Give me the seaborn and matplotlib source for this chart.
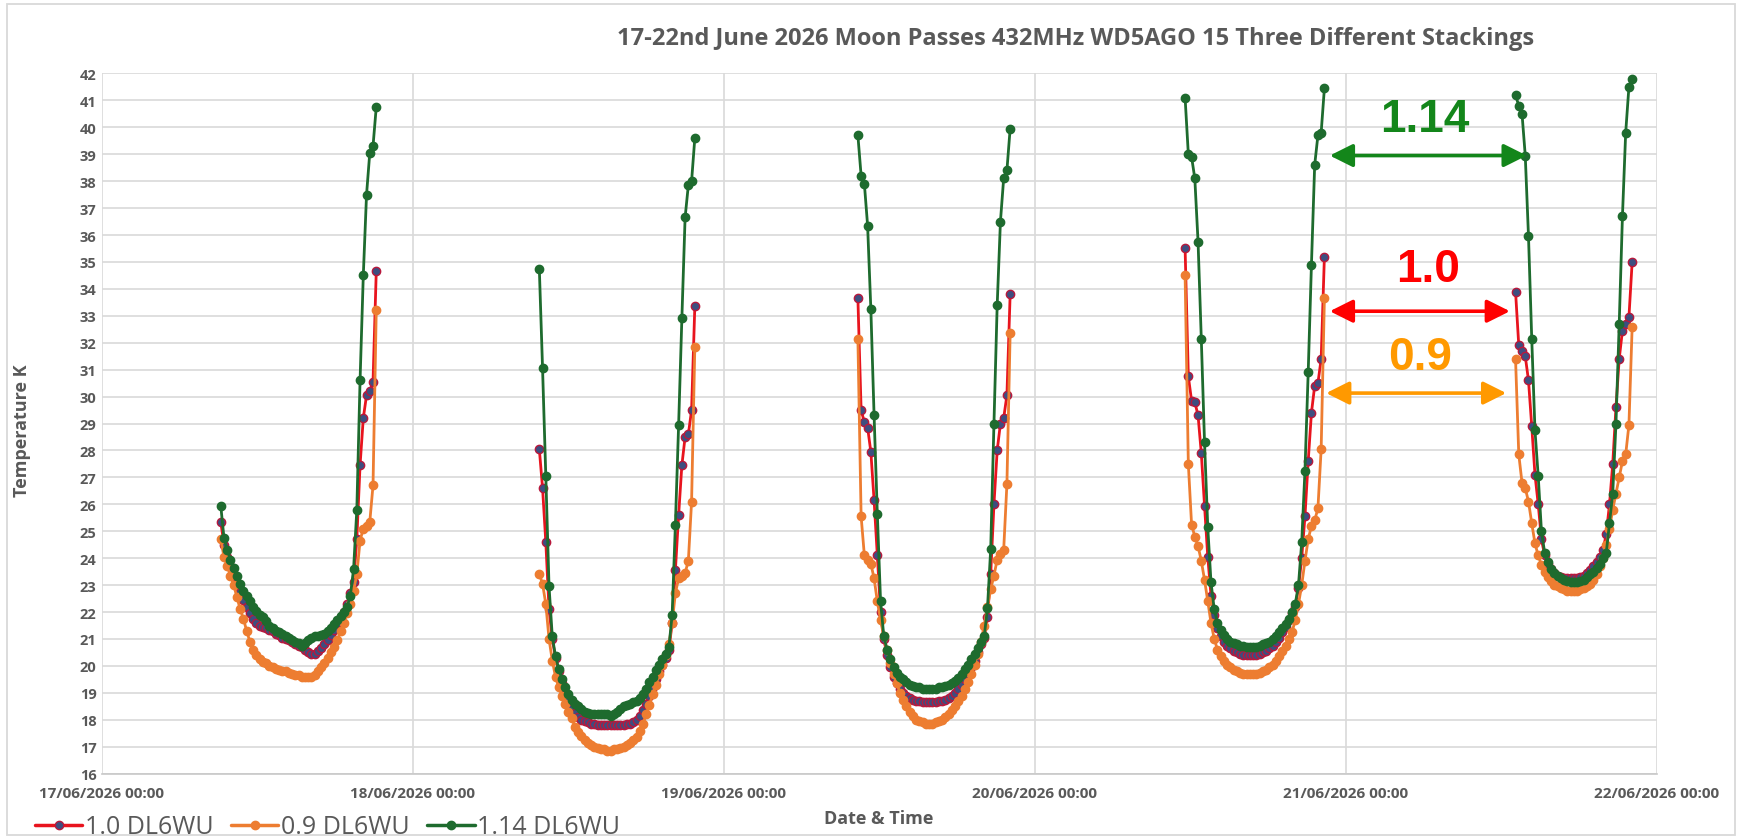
import pandas as pd
import matplotlib
matplotlib.use('Agg')
import matplotlib.pyplot as plt
import matplotlib.dates as mdates
from matplotlib.lines import Line2D
from matplotlib.patches import Rectangle
import seaborn as sns

sns.set_theme(style='white')
plt.rcParams['font.family'] = ['Open Sans', 'DejaVu Sans']

TITLE = "17-22nd June 2026 Moon Passes 432MHz WD5AGO 15 Three Different Stackings"
SERIES = ['1.0 DL6WU', '0.9 DL6WU', '1.14 DL6WU']
PASS_STARTS = ['2026-06-17 09:10', '2026-06-18 09:45', '2026-06-19 10:20',
               '2026-06-20 11:35', '2026-06-21 13:05']
STEP = '15min'
X_TICKS = ['2026-06-17', '2026-06-18', '2026-06-19', '2026-06-20', '2026-06-21', '2026-06-22']
X_TICK_LABELS = ['17/06/2026 00:00', '18/06/2026 00:00', '19/06/2026 00:00',
                 '20/06/2026 00:00', '21/06/2026 00:00', '22/06/2026 00:00']
Y_TICKS = list(range(16, 43))

# ---- 1.0 DL6WU ----
s10_p1 = [25.35, 24.5, 24.05, 23.7, 23.35, 23.05, 22.75, 22.45, 22.2, 21.95,
          21.75, 21.6, 21.5, 21.45, 21.4, 21.35, 21.3, 21.2, 21.15, 21.05,
          21.0, 20.95, 20.9, 20.8, 20.75, 20.7, 20.6, 20.5, 20.45, 20.45,
          20.55, 20.65, 20.8, 20.95, 21.15, 21.35, 21.6, 21.8, 22.0, 22.3,
          22.7, 23.1, 24.7, 27.45, 29.2, 30.05, 30.2, 30.55, 34.65]
s10_p2 = [28.05, 26.6, 24.6, 22.1, 21.0, 20.3, 19.8, 19.35, 19.0, 18.7,
          18.45, 18.25, 18.1, 18.0, 17.95, 17.9, 17.85, 17.85, 17.8, 17.8,
          17.8, 17.8, 17.8, 17.8, 17.8, 17.8, 17.8, 17.85, 17.85, 17.9,
          18.0, 18.15, 18.35, 18.6, 18.9, 19.2, 19.5, 19.8, 20.05, 20.3,
          20.6, 21.6, 23.55, 25.6, 27.45, 28.5, 28.6, 29.5, 33.35]
s10_p3 = [33.65, 29.5, 29.05, 28.85, 27.95, 26.15, 24.1, 22.0,
          21.0, 20.4, 19.95, 19.6, 19.35, 19.15, 19.0, 18.9, 18.8, 18.75,
          18.7, 18.7, 18.65, 18.65, 18.65, 18.65, 18.65, 18.7, 18.7, 18.75,
          18.8, 18.9, 19.0, 19.15, 19.3, 19.5, 19.7, 19.95, 20.2, 20.5,
          20.8, 21.05,
          21.8, 23.4, 26.0, 28.0, 29.0, 29.2, 30.05, 33.8]
s10_p4 = [35.5, 30.75, 29.85, 29.8, 29.3, 27.9, 25.95, 24.05,
          22.6, 21.9, 21.4, 21.1, 20.9, 20.75, 20.65, 20.55, 20.5, 20.45,
          20.4, 20.4, 20.4, 20.4, 20.4, 20.45, 20.5, 20.55, 20.65, 20.75,
          20.9, 21.05, 21.25, 21.45, 21.7, 21.95, 22.2,
          22.9, 24.0, 25.55, 27.6, 29.4, 30.4, 30.5, 31.4, 35.2]
s10_p5 = [33.9, 31.9, 31.7, 31.5, 30.6, 28.9, 27.1, 26.0, 24.7,
          24.1, 23.8, 23.6, 23.45, 23.35, 23.3, 23.25, 23.25, 23.25, 23.25,
          23.25, 23.3, 23.35, 23.45, 23.55, 23.7, 23.85, 24.05, 24.3,
          24.9, 26.0, 27.5, 29.6, 31.4, 32.45, 32.7, 32.95, 35.0]

# ---- 0.9 DL6WU ----
s09_p1 = [24.7, 24.05, 23.7, 23.35, 23.0, 22.55, 22.1, 21.75, 21.3, 20.9,
          20.6, 20.4, 20.25, 20.15, 20.1, 20.0, 19.95, 19.9, 19.85, 19.8,
          19.8, 19.75, 19.7, 19.65, 19.65, 19.6, 19.6, 19.6,
          19.6, 19.65, 19.8, 19.95, 20.1, 20.3, 20.5, 20.7, 20.95, 21.3,
          21.6, 21.95, 22.3, 22.8, 23.4, 24.65, 25.1, 25.2, 25.35, 26.7, 33.2]
s09_p2 = [23.4, 23.05, 22.3, 21.0, 20.2, 19.6, 19.2, 18.9, 18.6, 18.3,
          18.05, 17.75, 17.55, 17.4, 17.25, 17.15, 17.05, 17.0, 16.95, 16.9,
          16.9, 16.85, 16.85, 16.9, 16.9, 16.95, 17.0, 17.05, 17.15, 17.25,
          17.35, 17.6, 17.85, 18.2, 18.55, 18.95, 19.3, 19.7, 20.05, 20.4,
          20.8, 21.6, 22.7, 23.25, 23.35, 23.45, 23.9, 26.1, 31.85]
s09_p3 = [32.15, 25.55, 24.1, 23.95, 23.8, 23.25, 22.4, 21.7,
          21.1, 20.6, 20.1, 19.7, 19.35, 19.0, 18.75, 18.5, 18.3, 18.15,
          18.0, 17.95, 17.9, 17.85, 17.85, 17.85, 17.9, 17.95, 18.0, 18.1,
          18.2, 18.35, 18.5, 18.7, 18.9, 19.15, 19.4, 19.7, 20.05, 20.45,
          20.9, 21.5,
          22.2, 22.85, 23.35, 23.95, 24.15, 24.3, 26.75, 32.35]
s09_p4 = [34.5, 27.5, 25.25, 24.8, 24.45, 23.9, 23.2, 22.4,
          21.6, 21.0, 20.6, 20.35, 20.2, 20.05, 19.95, 19.85, 19.8, 19.75,
          19.7, 19.7, 19.7, 19.7, 19.7, 19.75, 19.8, 19.85, 19.95, 20.05,
          20.2, 20.35, 20.55, 20.75, 21.0, 21.25,
          21.7, 22.3, 23.0, 23.9, 24.7, 25.2, 25.4, 25.85, 28.05, 33.65]
s09_p5 = [31.4, 27.85, 26.8, 26.6, 26.1, 25.3, 24.55, 24.1, 23.75,
          23.5, 23.3, 23.15, 23.0, 22.95, 22.9, 22.85, 22.8, 22.8, 22.8,
          22.8, 22.85, 22.9, 22.95, 23.05, 23.2, 23.4, 23.7, 24.0,
          24.5, 25.1, 25.8, 26.4, 27.0, 27.6, 27.85, 28.95, 32.6]

# ---- 1.14 DL6WU ----
s114_p1 = [25.95, 24.75, 24.3, 23.95, 23.65, 23.35, 23.05, 22.8, 22.6, 22.4,
           22.2, 22.05, 21.9, 21.8, 21.65, 21.5, 21.4, 21.3, 21.25, 21.2,
           21.1, 21.05, 20.95, 20.9, 20.85, 20.75, 20.85, 20.95, 21.05, 21.1,
           21.1, 21.15, 21.2, 21.3, 21.4, 21.55, 21.7, 21.85, 22.0, 22.2,
           22.6, 23.6, 25.8, 30.6, 34.5, 37.5, 39.05, 39.3, 40.75]
s114_p2 = [34.75, 31.05, 27.05, 22.95, 21.1, 20.35, 19.9, 19.5, 19.2, 18.95,
           18.75, 18.6, 18.5, 18.4, 18.3, 18.25, 18.2, 18.2, 18.2, 18.2,
           18.2, 18.2, 18.15, 18.2, 18.3, 18.4, 18.5, 18.55, 18.6, 18.65,
           18.7, 18.8, 18.95, 19.15, 19.4, 19.6, 19.85, 20.05, 20.25, 20.45,
           20.7, 21.9, 25.25, 28.95, 32.9, 36.65, 37.85, 38.0, 39.6]
s114_p3 = [39.7, 38.2, 37.9, 36.35, 33.25, 29.3, 25.65, 22.4,
           21.1, 20.6, 20.25, 19.95, 19.75, 19.6, 19.5, 19.4, 19.3, 19.25,
           19.2, 19.2, 19.15, 19.15, 19.15, 19.15, 19.15, 19.2, 19.2, 19.25,
           19.3, 19.35, 19.45, 19.55, 19.7, 19.9, 20.05, 20.25, 20.45, 20.65,
           20.9, 21.1,
           22.15, 24.35, 29.0, 33.4, 36.5, 38.1, 38.4, 39.95]
s114_p4 = [41.1, 39.0, 38.9, 38.1, 35.75, 32.15, 28.3, 25.15,
           23.1, 22.1, 21.6, 21.35, 21.15, 21.0, 20.9, 20.85, 20.8, 20.75,
           20.75, 20.7, 20.7, 20.7, 20.7, 20.75, 20.8, 20.85, 20.9, 21.0,
           21.1, 21.25, 21.4, 21.55, 21.75, 22.0,
           22.3, 23.0, 24.6, 27.25, 30.9, 34.9, 38.6, 39.7, 39.8, 41.45]
s114_p5 = [41.2, 40.8, 40.5, 38.95, 35.95, 32.15, 28.75, 27.05, 25.0,
           24.2, 23.85, 23.6, 23.45, 23.35, 23.25, 23.2, 23.15, 23.1, 23.1,
           23.1, 23.15, 23.2, 23.3, 23.4, 23.5, 23.65, 23.8, 24.0, 24.2,
           25.3, 26.4, 29.0, 32.7, 36.7, 39.8, 41.5, 41.8]

SERIES_PASSES = {
    '1.0 DL6WU': [s10_p1, s10_p2, s10_p3, s10_p4, s10_p5],
    '0.9 DL6WU': [s09_p1, s09_p2, s09_p3, s09_p4, s09_p5],
    '1.14 DL6WU': [s114_p1, s114_p2, s114_p3, s114_p4, s114_p5],
}

# annotation labels (stacking factors)
ANN_LABELS = ['1.14', '1.0', '0.9']

frames = []
for name, passes in SERIES_PASSES.items():
    for k, (start, vals) in enumerate(zip(PASS_STARTS, passes)):
        t = pd.date_range(start, periods=len(vals), freq=STEP)
        frames.append(pd.DataFrame({'time': t, 'value': vals, 'series': name, 'pass': k}))
df = pd.concat(frames, ignore_index=True)

STYLES = {
    '1.0 DL6WU': dict(line='#E8141E', face='#3D4E80', edge='#B8183C'),
    '0.9 DL6WU': dict(line='#ED7D31', face='#ED7D31', edge='#ED7D31'),
    '1.14 DL6WU': dict(line='#1E6B2E', face='#1E6B2E', edge='#1E6B2E'),
}
GRAY = '#595959'

fig = plt.figure(figsize=(17.4, 8.37), dpi=100)
ax = fig.add_axes([0.0586, 0.0745, 0.8937, 0.8366])

for name in SERIES:
    st = STYLES[name]
    sns.lineplot(data=df[df['series'] == name], x='time', y='value', units='pass',
                 estimator=None, sort=False, color=st['line'], marker='o',
                 markersize=6.0, markerfacecolor=st['face'], markeredgecolor=st['edge'],
                 markeredgewidth=1.0, linewidth=2.0, ax=ax, legend=False, zorder=3)

ax.set_xlim(pd.Timestamp(X_TICKS[0]), pd.Timestamp(X_TICKS[-1]))
ax.set_ylim(Y_TICKS[0], Y_TICKS[-1])
ax.set_xticks([pd.Timestamp(d) for d in X_TICKS])
ax.set_xticklabels(X_TICK_LABELS, fontweight='bold', fontsize=11, color=GRAY)
ax.set_yticks(Y_TICKS)
ax.set_yticklabels([str(v) for v in Y_TICKS], fontweight='bold', fontsize=10.5, color=GRAY)
ax.tick_params(axis='x', length=0, pad=9)
ax.tick_params(axis='y', length=0, pad=4)
ax.grid(True, color='#D9D9D9', linewidth=1.2)
ax.set_axisbelow(True)
for s in ['top', 'right', 'left']:
    ax.spines[s].set_visible(False)
ax.spines['bottom'].set_color('#C8C8C8')
ax.spines['bottom'].set_linewidth(1.2)
ax.set_xlabel('')
ax.set_ylabel('')

# annotations: double arrows + labels
GREEN_A, RED_A, ORANGE_A = '#13861A', '#FF0000', '#FF9900'
arrows = [
    ('2026-06-20 22:45', '2026-06-21 13:57', 38.95, GREEN_A),
    ('2026-06-20 22:45', '2026-06-21 12:39', 33.17, RED_A),
    ('2026-06-20 22:28', '2026-06-21 12:22', 30.13, ORANGE_A),
]
for x0, x1, yv, c in arrows:
    ax.annotate('', xy=(mdates.date2num(pd.Timestamp(x1)), yv),
                xytext=(mdates.date2num(pd.Timestamp(x0)), yv),
                arrowprops=dict(arrowstyle='<|-|>,head_length=0.7,head_width=0.35',
                                color=c, lw=2.6, mutation_scale=20,
                                shrinkA=0, shrinkB=0), zorder=4)
texts = [
    ('2026-06-21 06:06', 40.3, ANN_LABELS[0], GREEN_A),
    ('2026-06-21 06:22', 34.74, ANN_LABELS[1], RED_A),
    ('2026-06-21 05:43', 31.46, ANN_LABELS[2], ORANGE_A),
]
for xs, yv, s, c in texts:
    ax.text(mdates.date2num(pd.Timestamp(xs)), yv, s, color=c, fontsize=33,
            fontweight='bold', family=['Liberation Sans', 'DejaVu Sans'],
            ha='center', va='center', zorder=5)

fig.text(0.618, 0.953, TITLE, ha='center', va='center', fontsize=17,
         fontweight='bold', color=GRAY)
fig.text(0.505, 0.021, 'Date & Time', ha='center', va='center', fontsize=13,
         fontweight='bold', color=GRAY)
fig.text(0.0128, 0.485, 'Temperature K', ha='center', va='center', rotation=90,
         fontsize=13, fontweight='bold', color=GRAY)

handles = [Line2D([], [], color=STYLES[n]['line'], marker='o', markersize=6,
                  markerfacecolor=STYLES[n]['face'], markeredgecolor=STYLES[n]['edge'],
                  linewidth=2.5) for n in SERIES]
fig.legend(handles, SERIES, loc='center left', bbox_to_anchor=(0.02, 0.011),
           ncol=3, frameon=False, fontsize=18, handlelength=1.9, handletextpad=0.1,
           columnspacing=0.7, labelcolor=GRAY, borderaxespad=0, borderpad=0)

fig.add_artist(Rectangle((0.004, 0.001), 0.993, 0.993, transform=fig.transFigure,
                         fill=False, edgecolor='#D9D9D9', linewidth=1.3))

fig.savefig('out.png', dpi=100)
